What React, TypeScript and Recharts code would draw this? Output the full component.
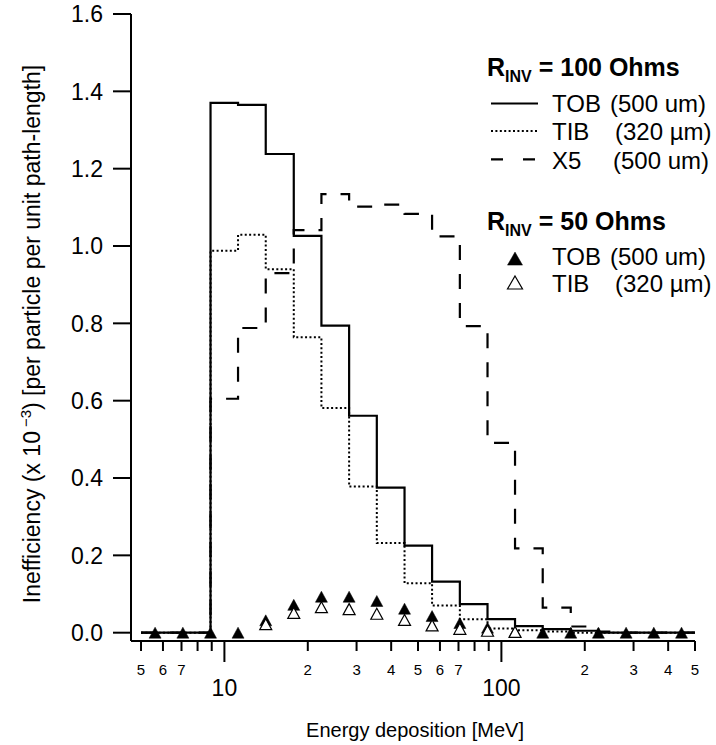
import React from 'react';
import { ComposedChart, Line, Scatter, XAxis, YAxis, Legend, Label } from 'recharts';

// Histogram bin edges (MeV); each value holds from its edge to the next edge
const binEdges = [5, 5.62, 7.08, 8.91, 11.2, 14.1, 17.8, 22.4, 28.2, 35.5, 44.7, 56.2, 70.8, 89.1, 112, 141, 178, 224, 282, 355, 447, 500];
const tob100 = [0, 0, 0, 1.37, 1.365, 1.238, 1.026, 0.794, 0.561, 0.375, 0.225, 0.132, 0.074, 0.035, 0.017, 0.009, 0.005, 0, 0, 0, 0, 0];
const tib100 = [0, 0, 0, 0.988, 1.029, 0.94, 0.764, 0.581, 0.378, 0.232, 0.128, 0.07, 0.035, 0.011, 0.006, 0.003, 0, 0, 0, 0, 0, 0];
const x5_100 = [0, 0, 0, 0.605, 0.788, 0.93, 1.041, 1.134, 1.102, 1.107, 1.083, 1.025, 0.793, 0.491, 0.218, 0.065, 0.016, 0.003, 0, 0, 0, 0];

// 50 Ohms markers
const tob50X = [5.62, 7.08, 8.91, 11.2, 14.1, 17.8, 22.4, 28.2, 35.5, 44.7, 56.2, 70.8, 89.1, 112, 141, 178, 224, 282, 355, 447];
const tob50 = [0, 0, 0, 0, 0.032, 0.072, 0.093, 0.093, 0.082, 0.062, 0.043, 0.025, 0.013, 0.003, 0, 0, 0, 0, 0, 0];
const tib50X = [14.1, 17.8, 22.4, 28.2, 35.5, 44.7, 56.2, 70.8, 89.1, 112];
const tib50 = [0.022, 0.051, 0.066, 0.061, 0.049, 0.033, 0.019, 0.01, 0.005, 0.002];

const xTicks = [5, 6, 7, 8, 9, 10, 20, 30, 40, 50, 60, 70, 80, 90, 100, 200, 300, 400, 500];
const xTickLabels = ['5', '6', '7', '', '', '10', '2', '3', '4', '5', '6', '7', '', '', '100', '2', '3', '4', '5'];
const majorTicks = [10, 100];
const yTicks = [0, 0.2, 0.4, 0.6, 0.8, 1.0, 1.2, 1.4, 1.6];

const legendHeaders = ['100 Ohms', '50 Ohms'];
const legendNames = ['TOB', 'TIB', 'X5'];
const legendSizes = ['(500 um)', '(320 µm)', '(500 um)'];

const FONT = '"Liberation Sans", Arial, Helvetica, sans-serif';

const histRows = binEdges.map((x, i) => ({ x, tob: tob100[i], tib: tib100[i], x5: x5_100[i] }));
const tob50Rows = tob50X.map((x, i) => ({ x, y: tob50[i] }));
const tib50Rows = tib50X.map((x, i) => ({ x, y: tib50[i] }));

const Tri = ({ cx, cy, filled, w = 12, h = 11 }: any) => (
  <polygon
    points={`${cx},${cy - h / 2} ${cx + w / 2},${cy + h / 2} ${cx - w / 2},${cy + h / 2}`}
    fill={filled ? '#000' : '#fff'}
    stroke="#000"
    strokeWidth={filled ? 0.5 : 1.2}
  />
);

const XTick = (props: any) => {
  const { x, y, payload } = props;
  const i = xTicks.indexOf(payload.value);
  const label = i >= 0 ? xTickLabels[i] : '';
  const major = majorTicks.includes(payload.value);
  return (
    <g>
      <line x1={x} x2={x} y1={y} y2={y + (major ? 21 : 10)} stroke="#000" strokeWidth={2} />
      {label ? (
        <text x={x} y={major ? y + 55 : y + 34} textAnchor="middle" fontSize={major ? 23 : 15} fontFamily={FONT} fill="#000">
          {label}
        </text>
      ) : null}
    </g>
  );
};

const YTick = (props: any) => {
  const { x, y, payload } = props;
  return (
    <g>
      <line x1={x - 18} x2={x} y1={y} y2={y} stroke="#000" strokeWidth={2} />
      <text x={x - 28} y={y + 8.3} textAnchor="end" fontSize={23} fontFamily={FONT} fill="#000">
        {Number(payload.value).toFixed(1)}
      </text>
    </g>
  );
};

const YTitle = () => (
  <text transform="translate(40,334) rotate(-90)" textAnchor="middle" fontSize={23} fontFamily={FONT} fill="#000">
    <tspan>Inefficiency (x 10</tspan>
    <tspan dx={4} dy={-9} fontSize={15}>−3</tspan>
    <tspan dy={9}>) [per particle per unit path-length]</tspan>
  </text>
);

const XTitle = () => (
  <text x={415} y={737} textAnchor="middle" fontSize={20} fontFamily={FONT} fill="#000">
    Energy deposition [MeV]
  </text>
);

const LegendBox = () => (
  <svg width={716} height={310} style={{ display: 'block' }}>
    <g fontFamily={FONT} fill="#000">
      <text x={487} y={76} fontSize={25} fontWeight="bold">
        R<tspan fontSize={16} dy={6}>INV</tspan>
        <tspan dy={-6}>{' = ' + legendHeaders[0]}</tspan>
      </text>
      <line x1={491} x2={538} y1={103.5} y2={103.5} stroke="#000" strokeWidth={2.2} />
      <text x={552} y={112.4} fontSize={24}>{legendNames[0]}</text>
      <text x={610} y={112.4} fontSize={24}>{legendSizes[0]}</text>
      <line x1={491} x2={538} y1={131} y2={131} stroke="#000" strokeWidth={2} strokeDasharray="2 2.4" />
      <text x={552} y={140} fontSize={24}>{legendNames[1]}</text>
      <text x={615} y={140} fontSize={24}>{legendSizes[1]}</text>
      <line x1={491} x2={538} y1={159.3} y2={159.3} stroke="#000" strokeWidth={2.2} strokeDasharray="12 20" />
      <text x={552} y={168.6} fontSize={24}>{legendNames[2]}</text>
      <text x={613} y={168.6} fontSize={24}>{legendSizes[2]}</text>
      <text x={487} y={230} fontSize={25} fontWeight="bold">
        R<tspan fontSize={16} dy={6}>INV</tspan>
        <tspan dy={-6}>{' = ' + legendHeaders[1]}</tspan>
      </text>
      <Tri cx={515} cy={258.6} filled w={15} h={13} />
      <text x={552} y={265.2} fontSize={24}>{legendNames[0]}</text>
      <text x={610} y={265.2} fontSize={24}>{legendSizes[0]}</text>
      <Tri cx={515} cy={282.5} filled={false} w={15} h={13} />
      <text x={552} y={292} fontSize={24}>{legendNames[1]}</text>
      <text x={615} y={292} fontSize={24}>{legendSizes[1]}</text>
    </g>
  </svg>
);

export default function App() {
  return (
    <div style={{ position: 'absolute', left: 0, top: 0, background: '#fff' }}>
      <ComposedChart width={716} height={745} data={histRows} margin={{ top: 14, right: 21, bottom: 0, left: 0 }}>
        <XAxis
          dataKey="x"
          type="number"
          scale="log"
          domain={[4.6, 500]}
          allowDataOverflow
          ticks={xTicks}
          interval={0}
          tickSize={0}
          tickMargin={0}
          tickLine={false}
          tick={<XTick />}
          axisLine={{ stroke: '#000', strokeWidth: 2 }}
          height={104}
        >
          <Label content={<XTitle />} />
        </XAxis>
        <YAxis
          type="number"
          domain={[-0.0215, 1.6]}
          allowDataOverflow
          ticks={yTicks}
          interval={0}
          tickSize={0}
          tickMargin={0}
          tickLine={false}
          tick={<YTick />}
          axisLine={{ stroke: '#000', strokeWidth: 2 }}
          width={131}
        >
          <Label content={<YTitle />} />
        </YAxis>
        <Legend
          layout="horizontal"
          verticalAlign="middle"
          align="center"
          wrapperStyle={{ left: 0, top: 0, width: 716, height: 310, pointerEvents: 'none' }}
          content={() => <LegendBox />}
        />
        <Line dataKey="x5" type="stepAfter" stroke="#000" strokeWidth={2.2} strokeDasharray="15 14" dot={false} isAnimationActive={false} />
        <Line dataKey="tib" type="stepAfter" stroke="#000" strokeWidth={2} strokeDasharray="2 2.4" dot={false} isAnimationActive={false} />
        <Line dataKey="tob" type="stepAfter" stroke="#000" strokeWidth={2.2} dot={false} isAnimationActive={false} />
        <Scatter data={tob50Rows} dataKey="y" isAnimationActive={false} shape={(p: any) => <Tri cx={p.cx} cy={p.cy} filled />} />
        <Scatter data={tib50Rows} dataKey="y" isAnimationActive={false} shape={(p: any) => <Tri cx={p.cx} cy={p.cy} filled={false} />} />
      </ComposedChart>
    </div>
  );
}
